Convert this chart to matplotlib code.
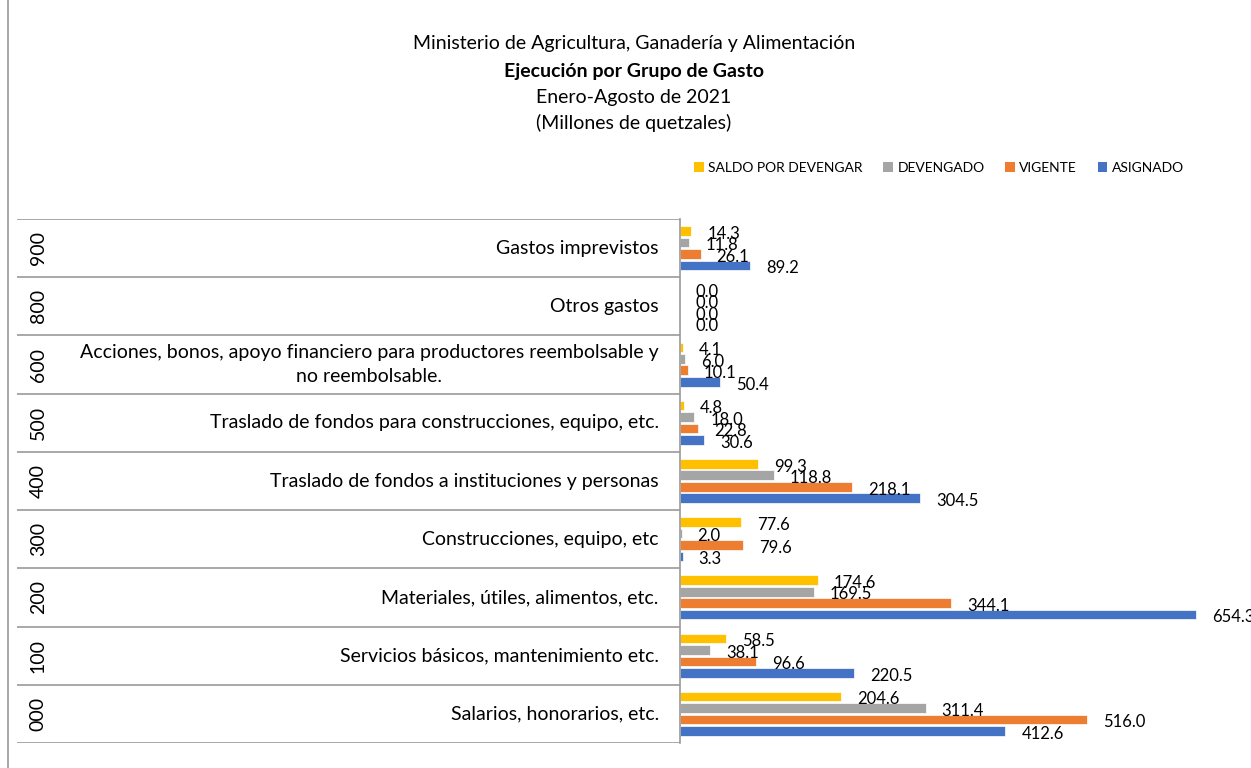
import numpy as np
import matplotlib
matplotlib.use("Agg")
import matplotlib.pyplot as plt
from matplotlib.lines import Line2D
from matplotlib.patches import Patch

plt.rcParams['font.family'] = ['Lato', 'DejaVu Sans']

# data (bottom to top)
codes = ["000", "100", "200", "300", "400", "500", "600", "800", "900"]
names = ["Salarios, honorarios, etc.",
         "Servicios básicos, mantenimiento etc.",
         "Materiales, útiles, alimentos, etc.",
         "Construcciones, equipo, etc",
         "Traslado de fondos a instituciones y personas",
         "Traslado de fondos para construcciones, equipo, etc.",
         "Acciones, bonos, apoyo financiero para productores reembolsable y\nno reembolsable.",
         "Otros gastos",
         "Gastos imprevistos"]
asignado = [412.6, 220.5, 654.3, 3.3, 304.5, 30.6, 50.4, 0.0, 89.2]
vigente = [516.0, 96.6, 344.1, 79.6, 218.1, 22.8, 10.1, 0.0, 26.1]
devengado = [311.4, 38.1, 169.5, 2.0, 118.8, 18.0, 6.0, 0.0, 11.8]
saldo = [204.6, 58.5, 174.6, 77.6, 99.3, 4.8, 4.1, 0.0, 14.3]

series = [("SALDO POR DEVENGAR", saldo, "#FFC000"),
          ("DEVENGADO", devengado, "#A5A5A5"),
          ("VIGENTE", vigente, "#ED7D31"),
          ("ASIGNADO", asignado, "#4472C4")]

W, H = 1251, 768
fig = plt.figure(figsize=(W / 100, H / 100), dpi=100)

top_px, bot_px = 219, 743
ax_left, cat_left = 680, 17
ax = fig.add_axes([ax_left / W, 1 - bot_px / H, (W - ax_left) / W, (bot_px - top_px) / H])
lax = fig.add_axes([cat_left / W, 1 - bot_px / H, (ax_left - cat_left) / W, (bot_px - top_px) / H])

y = np.arange(len(codes))
step = 0.197
bh = 0.165
for i, (lab, vals, col) in enumerate(series):
    off = (1.5 - i) * step
    ax.barh(y + off, vals, height=bh, color=col, edgecolor="white", linewidth=0.5)
    for yy, v in zip(y, vals):
        ax.annotate(f"{v:.1f}", (v, yy + off), xytext=(11.5, -2), textcoords="offset points",
                    ha="left", va="center", fontsize=12, color="black", annotation_clip=False)

ax.set_xlim(0, 724)
ax.set_ylim(-0.5, len(codes) - 0.5)
ax.set_xticks([])
ax.set_yticks([])
for s in ["top", "right", "bottom"]:
    ax.spines[s].set_visible(False)
ax.spines["left"].set_color("#999999")
ax.spines["left"].set_linewidth(1.2)

# category box on the left
lax.set_xlim(0, 1)
lax.set_ylim(-0.5, len(codes) - 0.5)
lax.axis("off")
for k in range(len(codes) + 1):
    lax.axhline(k - 0.5, color="#999999", lw=1.2)
for yy, c, n in zip(y, codes, names):
    lax.text(0.032, yy, c, rotation=90, ha="center", va="center", fontsize=14)
    lax.text(0.968, yy, n, ha="right", va="center", fontsize=14,
             multialignment="center", linespacing=1.5)

# outer border line at the left
fig.add_artist(Line2D([8 / W, 8 / W], [0, 1], color="#999999", lw=1.2))

# titles
cx = 634 / W
fig.text(cx, 1 - 44 / H, "Ministerio de Agricultura, Ganadería y Alimentación", ha="center", va="center", fontsize=14)
fig.text(cx, 1 - 71 / H, "Ejecución por Grupo de Gasto", ha="center", va="center", fontsize=14, fontweight="bold")
fig.text(cx, 1 - 97 / H, "Enero-Agosto de 2021", ha="center", va="center", fontsize=14)
fig.text(cx, 1 - 123 / H, "(Millones de quetzales)", ha="center", va="center", fontsize=14)

handles = [Patch(facecolor=col, label=lab) for lab, _, col in series]
fig.legend(handles=handles, loc="center", bbox_to_anchor=(939 / W, 1 - 168 / H), ncol=4,
           frameon=False, fontsize=10, handlelength=0.7, handleheight=0.7,
           handletextpad=0.3, columnspacing=1.5)

fig.savefig("out.png", dpi=100)
